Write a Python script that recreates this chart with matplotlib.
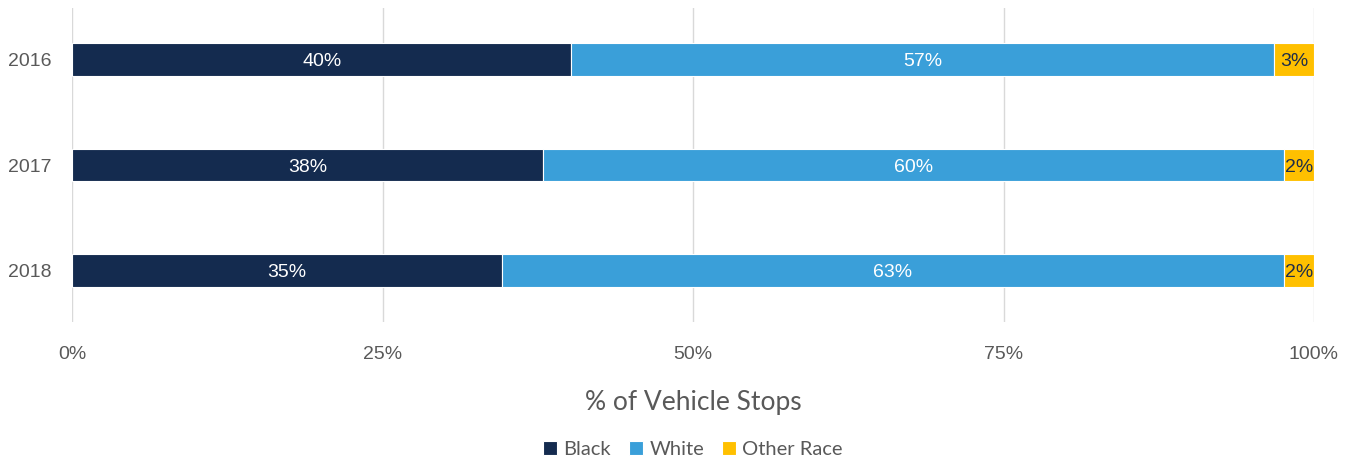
import matplotlib.pyplot as plt

years = ["2016", "2017", "2018"]
black = [40.2, 37.9, 34.6]
white = [56.6, 59.7, 63.0]
other = [3.2, 2.4, 2.4]

series = [
    ("Black", black, "#142b4f", "white"),
    ("White", white, "#3a9fd9", "white"),
    ("Other Race", other, "#ffc000", "#1f2d4a"),
]

fig = plt.figure(figsize=(13.51, 4.59), dpi=100)
ax = fig.add_axes([72 / 1351, 1 - 322 / 459, 1242 / 1351, 314 / 459])

ypos = list(range(len(years)))
left = [0.0] * len(years)
for name, vals, color, txt in series:
    bars = ax.barh(ypos, vals, left=left, height=0.31, color=color,
                   edgecolor="white", linewidth=0.8, label=name, zorder=3)
    anns = ax.bar_label(bars, labels=[f"{v:.0f}%" for v in vals], label_type="center",
                        color=txt, fontsize=14, family="Liberation Sans")
    for a in anns:
        a.set_va("center_baseline")
    left = [l + v for l, v in zip(left, vals)]

ax.set_xlim(0, 100)
ax.set_ylim(2.49, -0.49)
ax.set_yticks(ypos)
ax.set_yticklabels(years)
ax.set_xticks([0, 25, 50, 75, 100])
ax.set_xticklabels(["0%", "25%", "50%", "75%", "100%"])
ax.tick_params(length=0, labelsize=14, labelcolor="#595959")
ax.tick_params(axis="y", pad=15)
ax.tick_params(axis="x", pad=17)
for lab in ax.get_xticklabels() + ax.get_yticklabels():
    lab.set_family("Liberation Sans")

ax.grid(axis="x", color="#d9d9d9", linewidth=1, zorder=0)
for s in ax.spines.values():
    s.set_visible(False)

ax.set_xlabel("% of Vehicle Stops", fontsize=19, color="#595959",
              family="Lato", labelpad=20)

ax.legend(loc="center", bbox_to_anchor=(0.5, -0.405), ncol=3, frameon=False,
          handlelength=0.7, handleheight=0.7, handletextpad=0.3, columnspacing=0.9,
          prop={"family": "Lato", "size": 14.5}, labelcolor="#595959")

plt.savefig("out.png", dpi=100)
